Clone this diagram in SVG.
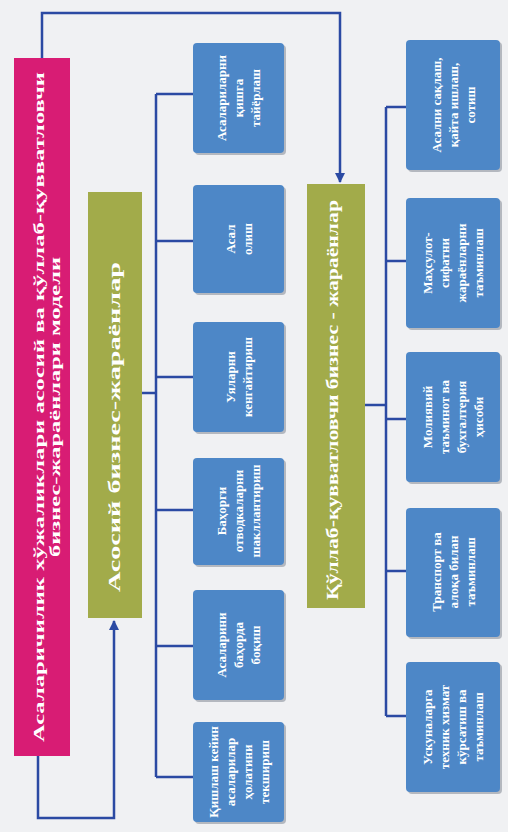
<svg xmlns="http://www.w3.org/2000/svg" width="508" height="832" viewBox="0 0 508 832">
<style>
.bg{fill:#f0f1f3}
.pink{fill:#d81c74}
.olive{fill:#a2ab4a}
.box{fill:#4d87c7}
.sh{fill:#6b7480;opacity:0.45}
.big{font-family:"Liberation Serif","DejaVu Serif",serif;font-weight:bold;fill:#ffffff;text-anchor:middle}
.t{font-family:"Liberation Serif","DejaVu Serif",serif;font-weight:bold;font-size:13px;fill:#ffffff;text-anchor:middle}
.c{fill:none;stroke:#2b4aa3;stroke-width:2.5}
</style>
<defs>
<marker id="ah" viewBox="0 0 10 10" refX="9" refY="5" markerWidth="4" markerHeight="4" orient="auto">
<path d="M0,0 L10,5 L0,10 Z" fill="#2b4aa3"/>
</marker>
</defs>
<rect class="bg" x="0" y="0" width="508" height="832"/>

<g id="connectors">
<path class="c" d="M42,58 V13 H340 V182" marker-end="url(#ah)"/>
<path class="c" d="M38,756 V818 H114 V621" marker-end="url(#ah)"/>
<path class="c" d="M142,393 H156"/>
<path class="c" d="M156,94 V777"/>
<path class="c" d="M156,94 H193 M156,241 H193 M156,377 H193 M156,510 H193 M156,646 H193 M156,777 H193"/>
<path class="c" d="M365,405 H386"/>
<path class="c" d="M386,107 V716"/>
<path class="c" d="M386,107 H406 M386,261 H406 M386,419 H406 M386,571 H406 M386,716 H406"/>
</g>

<g id="model">
<rect class="pink" x="14" y="58" width="56" height="698"/>
<g transform="translate(42,407) rotate(-90)">
<text class="big" font-size="15" x="0" y="2" textLength="670" lengthAdjust="spacingAndGlyphs">Асаларичилик хўжаликлари асосий ва қўллаб-қувватловчи</text>
<text class="big" font-size="15" x="0" y="18" textLength="300" lengthAdjust="spacingAndGlyphs">бизнес-жараёнлари модели</text>
</g>
</g>

<g id="main">
<rect class="olive" x="88" y="192" width="54" height="426"/>
<g transform="translate(115,427) rotate(-90)">
<text class="big" font-size="17" x="0" y="5" textLength="330" lengthAdjust="spacingAndGlyphs">Асосий бизнес-жараёнлар</text>
</g>
</g>

<g id="support">
<rect class="olive" x="307" y="184" width="58" height="424"/>
<g transform="translate(333,400) rotate(-90)">
<text class="big" font-size="16" x="0" y="5" textLength="400" lengthAdjust="spacingAndGlyphs">Қўллаб-қувватловчи бизнес - жараёнлар</text>
</g>
</g>

<g id="m1">
<rect class="sh" x="195" y="45" width="91" height="110" rx="4"/>
<rect class="box" x="193" y="43" width="91" height="110" rx="4"/>
<g transform="translate(238.5,98) rotate(-90)">
<text class="t" x="0" y="-12.5">Асалариларни</text>
<text class="t" x="0" y="4.5">қишга</text>
<text class="t" x="0" y="21.5">тайёрлаш</text>
</g>
</g>
<g id="m2">
<rect class="sh" x="195" y="187" width="91" height="108" rx="4"/>
<rect class="box" x="193" y="185" width="91" height="108" rx="4"/>
<g transform="translate(238.5,239) rotate(-90)">
<text class="t" x="0" y="-4">Асал</text>
<text class="t" x="0" y="13">олиш</text>
</g>
</g>
<g id="m3">
<rect class="sh" x="195" y="324" width="91" height="110" rx="4"/>
<rect class="box" x="193" y="322" width="91" height="110" rx="4"/>
<g transform="translate(238.5,377) rotate(-90)">
<text class="t" x="0" y="-4">Уяларни</text>
<text class="t" x="0" y="13">кенгайтириш</text>
</g>
</g>
<g id="m4">
<rect class="sh" x="195" y="460" width="91" height="107" rx="4"/>
<rect class="box" x="193" y="458" width="91" height="107" rx="4"/>
<g transform="translate(238.5,511) rotate(-90)">
<text class="t" x="0" y="-12.5">Баҳорги</text>
<text class="t" x="0" y="4.5">отводкаларни</text>
<text class="t" x="0" y="21.5">шакллантириш</text>
</g>
</g>
<g id="m5">
<rect class="sh" x="195" y="592" width="91" height="110" rx="4"/>
<rect class="box" x="193" y="590" width="91" height="110" rx="4"/>
<g transform="translate(238.5,645) rotate(-90)">
<text class="t" x="0" y="-12.5">Асаларини</text>
<text class="t" x="0" y="4.5">баҳорда</text>
<text class="t" x="0" y="21.5">боқиш</text>
</g>
</g>
<g id="m6">
<rect class="sh" x="195" y="724" width="91" height="100" rx="4"/>
<rect class="box" x="193" y="722" width="91" height="100" rx="4"/>
<g transform="translate(238.5,772) rotate(-90)">
<text class="t" x="0" y="-21">Қишлаш кейин</text>
<text class="t" x="0" y="-4">асаларилар</text>
<text class="t" x="0" y="13">ҳолатини</text>
<text class="t" x="0" y="30">текшириш</text>
</g>
</g>

<g id="s1">
<rect class="sh" x="408" y="42" width="94" height="130" rx="4"/>
<rect class="box" x="406" y="40" width="94" height="130" rx="4"/>
<g transform="translate(453,105) rotate(-90)">
<text class="t" x="0" y="-12.5">Асални сақлаш,</text>
<text class="t" x="0" y="4.5">қайта ишлаш,</text>
<text class="t" x="0" y="21.5">сотиш</text>
</g>
</g>
<g id="s2">
<rect class="sh" x="408" y="200" width="94" height="130" rx="4"/>
<rect class="box" x="406" y="198" width="94" height="130" rx="4"/>
<g transform="translate(453,263) rotate(-90)">
<text class="t" x="0" y="-21">Маҳсулот-</text>
<text class="t" x="0" y="-4">сифатни</text>
<text class="t" x="0" y="13">жараёнларни</text>
<text class="t" x="0" y="30">таъминлаш</text>
</g>
</g>
<g id="s3">
<rect class="sh" x="408" y="354" width="94" height="130" rx="4"/>
<rect class="box" x="406" y="352" width="94" height="130" rx="4"/>
<g transform="translate(453,417) rotate(-90)">
<text class="t" x="0" y="-21">Молиявий</text>
<text class="t" x="0" y="-4">таъминот ва</text>
<text class="t" x="0" y="13">бухгалтерия</text>
<text class="t" x="0" y="30">ҳисоби</text>
</g>
</g>
<g id="s4">
<rect class="sh" x="408" y="510" width="94" height="129" rx="4"/>
<rect class="box" x="406" y="508" width="94" height="129" rx="4"/>
<g transform="translate(453,572) rotate(-90)">
<text class="t" x="0" y="-12.5">Транспорт ва</text>
<text class="t" x="0" y="4.5">алоқа билан</text>
<text class="t" x="0" y="21.5">таъминлаш</text>
</g>
</g>
<g id="s5">
<rect class="sh" x="408" y="664" width="94" height="130" rx="4"/>
<rect class="box" x="406" y="662" width="94" height="130" rx="4"/>
<g transform="translate(453,727) rotate(-90)">
<text class="t" x="0" y="-21">Ускуналарга</text>
<text class="t" x="0" y="-4">техник хизмат</text>
<text class="t" x="0" y="13">кўрсатиш ва</text>
<text class="t" x="0" y="30">таъминлаш</text>
</g>
</g>
</svg>
